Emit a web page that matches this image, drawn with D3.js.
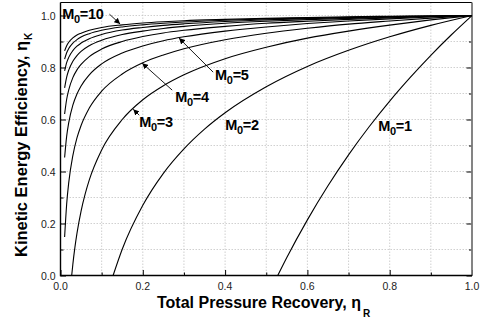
<!DOCTYPE html>
<html>
<head>
<meta charset="utf-8">
<script src="https://cdn.jsdelivr.net/npm/d3@7"></script>
<style>
  body { margin: 0; background: #fff; }
  svg { display: block; font-family: "Liberation Sans", Arial, sans-serif; }
</style>
</head>
<body>
<div id="chart"></div>
<script>
// total pressure recovery values (x)
const piFull = [0.01, 0.015, 0.02, 0.03, 0.04, 0.05, 0.07, 0.1, 0.15, 0.2, 0.25, 0.3, 0.4, 0.5, 0.6, 0.7, 0.8, 0.9, 1.0];
const etaM10 = [0.864, 0.884, 0.897, 0.914, 0.925, 0.932, 0.943, 0.954, 0.964, 0.971, 0.976, 0.980, 0.985, 0.989, 0.992, 0.995, 0.997, 0.998, 1];
const etaM9  = [0.832, 0.857, 0.873, 0.894, 0.907, 0.917, 0.930, 0.943, 0.956, 0.964, 0.970, 0.975, 0.982, 0.987, 0.990, 0.993, 0.996, 0.998, 1];
const etaM8  = [0.787, 0.819, 0.839, 0.865, 0.882, 0.894, 0.911, 0.927, 0.944, 0.954, 0.962, 0.968, 0.977, 0.983, 0.988, 0.992, 0.995, 0.998, 1];
const etaM7  = [0.722, 0.763, 0.790, 0.824, 0.846, 0.862, 0.884, 0.905, 0.927, 0.940, 0.950, 0.958, 0.970, 0.978, 0.984, 0.989, 0.993, 0.997, 1];
const etaM6  = [0.621, 0.678, 0.714, 0.761, 0.791, 0.812, 0.842, 0.871, 0.900, 0.919, 0.933, 0.943, 0.958, 0.970, 0.978, 0.985, 0.991, 0.996, 1];
const etaM5  = [0.454, 0.536, 0.588, 0.655, 0.698, 0.729, 0.772, 0.814, 0.856, 0.883, 0.903, 0.918, 0.940, 0.956, 0.969, 0.979, 0.987, 0.994, 1];
const etaM4  = [0.148, 0.275, 0.357, 0.461, 0.529, 0.577, 0.644, 0.709, 0.775, 0.818, 0.848, 0.872, 0.907, 0.932, 0.951, 0.967, 0.979, 0.990, 1];

const piM3  = [0.0272, 0.03, 0.035, 0.04, 0.05, 0.06, 0.07, 0.1, 0.15, 0.2, 0.25, 0.3, 0.4, 0.5, 0.6, 0.7, 0.8, 0.9, 1.0];
const etaM3 = [0, 0.043, 0.108, 0.162, 0.248, 0.314, 0.368, 0.483, 0.600, 0.676, 0.730, 0.772, 0.834, 0.878, 0.913, 0.940, 0.963, 0.983, 1];

const piM2  = [0.1278, 0.15, 0.2, 0.25, 0.3, 0.35, 0.4, 0.5, 0.6, 0.7, 0.8, 0.9, 1.0];
const etaM2 = [0, 0.101, 0.270, 0.393, 0.487, 0.563, 0.626, 0.726, 0.804, 0.866, 0.918, 0.962, 1];

const piM1  = [0.528, 0.55, 0.6, 0.65, 0.7, 0.75, 0.8, 0.85, 0.9, 0.95, 1.0];
const etaM1 = [0, 0.069, 0.214, 0.345, 0.464, 0.572, 0.671, 0.762, 0.847, 0.926, 1];

const series = [
  {pi: piFull, eta: etaM10}, {pi: piFull, eta: etaM9}, {pi: piFull, eta: etaM8},
  {pi: piFull, eta: etaM7}, {pi: piFull, eta: etaM6}, {pi: piFull, eta: etaM5},
  {pi: piFull, eta: etaM4}, {pi: piM3, eta: etaM3}, {pi: piM2, eta: etaM2},
  {pi: piM1, eta: etaM1}
];

// curve labels: Mach number, text anchor, arrow tail and head (data units)
const labelMach = ["10", "5", "4", "3", "2", "1"];
const labelPos  = [[0.004, 0.986], [0.3755, 0.751], [0.2786, 0.666], [0.1913, 0.570], [0.4002, 0.559], [0.772, 0.555]];
const arrows    = [[[0.119, 1.005], [0.145, 0.967]],
                   [[0.371, 0.782], [0.288, 0.913]],
                   [[0.2714, 0.713], [0.1985, 0.8165]],
                   [[0.1913, 0.6165], [0.1767, 0.6396]]];

const xTicks = [0, 0.2, 0.4, 0.6, 0.8, 1.0];
const yTicks = [0, 0.2, 0.4, 0.6, 0.8, 1.0];
const minorTicks = [0, 0.1, 0.2, 0.3, 0.4, 0.5, 0.6, 0.7, 0.8, 0.9, 1.0];

const width = 480;
const height = 324;
const marginLeft = 60.5, plotRight = 472, marginTop = 2.5, plotBottom = 275.5;

const x = d3.scaleLinear([0, 1], [marginLeft, plotRight]);
const y = d3.scaleLinear([0, 1.05], [plotBottom, marginTop]);

const svg = d3.create("svg")
    .attr("width", width)
    .attr("height", height);

// dotted grid
const grid = svg.append("g")
    .attr("stroke", "#c4c4c4")
    .attr("stroke-width", 0.8)
    .attr("stroke-dasharray", "1.5,1.5");
grid.selectAll(".gx").data(minorTicks.slice(1, -1)).join("line")
    .attr("x1", d => x(d)).attr("x2", d => x(d))
    .attr("y1", marginTop).attr("y2", plotBottom);
grid.selectAll(".gy").data(minorTicks.slice(1)).join("line")
    .attr("x1", marginLeft).attr("x2", plotRight)
    .attr("y1", d => y(d)).attr("y2", d => y(d));

// axes: ticks point inward, minor at 0.1
const isMajor = d => xTicks.some(t => Math.abs(t - d) < 1e-9);

const xAxis = svg.append("g")
    .attr("transform", `translate(0,${plotBottom})`)
    .call(d3.axisBottom(x).tickValues(minorTicks).tickSize(-3).tickFormat(""));
xAxis.selectAll(".tick line").filter(isMajor).attr("y2", -5.5);
xAxis.select(".domain").remove();

const xLabels = svg.append("g")
    .attr("font-size", 10.5).attr("fill", "#222").attr("text-anchor", "middle");
xLabels.selectAll("text").data(xTicks).join("text")
    .attr("x", d => x(d)).attr("y", plotBottom + 14)
    .text(d3.format(".1f"));

const yAxis = svg.append("g")
    .attr("transform", `translate(${marginLeft},0)`)
    .call(d3.axisLeft(y).tickValues(minorTicks).tickSize(-3).tickFormat(""));
yAxis.selectAll(".tick line").filter(isMajor).attr("x2", 5.5);
yAxis.select(".domain").remove();

const yRight = svg.append("g")
    .attr("transform", `translate(${plotRight},0)`)
    .call(d3.axisRight(y).tickValues(minorTicks).tickSize(-3).tickFormat(""));
yRight.selectAll(".tick line").filter(isMajor).attr("x2", -5.5);
yRight.select(".domain").remove();

const yLabels = svg.append("g")
    .attr("font-size", 10.5).attr("fill", "#222").attr("text-anchor", "end");
yLabels.selectAll("text").data(yTicks).join("text")
    .attr("x", marginLeft - 5).attr("y", d => y(d) + 4)
    .text(d3.format(".1f"));

// frame
svg.append("line").attr("x1", marginLeft).attr("x2", plotRight).attr("y1", marginTop).attr("y2", marginTop)
    .attr("stroke", "#000").attr("stroke-width", 1.2);
svg.append("line").attr("x1", plotRight).attr("x2", plotRight).attr("y1", marginTop).attr("y2", plotBottom)
    .attr("stroke", "#777").attr("stroke-width", 1.8);
svg.append("line").attr("x1", marginLeft).attr("x2", marginLeft).attr("y1", marginTop).attr("y2", plotBottom + 0.7)
    .attr("stroke", "#000").attr("stroke-width", 1.4);
svg.append("line").attr("x1", marginLeft).attr("x2", plotRight).attr("y1", plotBottom).attr("y2", plotBottom)
    .attr("stroke", "#000").attr("stroke-width", 1.4);

// curves
const line = d3.line()
    .x(d => x(d[0]))
    .y(d => y(d[1]))
    .curve(d3.curveMonotoneX);

svg.append("g")
    .attr("fill", "none")
    .attr("stroke", "#000")
    .attr("stroke-width", 1.1)
  .selectAll("path")
  .data(series)
  .join("path")
    .attr("d", s => line(s.pi.map((p, i) => [p, s.eta[i]])));

// arrows
svg.append("defs").append("marker")
    .attr("id", "head")
    .attr("viewBox", "0 0 10 10")
    .attr("refX", 10).attr("refY", 5)
    .attr("markerWidth", 6).attr("markerHeight", 6)
    .attr("markerUnits", "userSpaceOnUse")
    .attr("orient", "auto")
  .append("path")
    .attr("d", "M0,0L10,5L0,10z")
    .attr("fill", "#000");

svg.append("g")
    .attr("stroke", "#000")
    .attr("stroke-width", 0.9)
  .selectAll("line")
  .data(arrows)
  .join("line")
    .attr("x1", d => x(d[0][0])).attr("y1", d => y(d[0][1]))
    .attr("x2", d => x(d[1][0])).attr("y2", d => y(d[1][1]))
    .attr("marker-end", "url(#head)");

// Mach labels
const labels = svg.append("g")
    .attr("font-size", 14.5)
    .attr("font-weight", "bold")
    .attr("letter-spacing", -0.3)
  .selectAll("text")
  .data(labelMach)
  .join("text")
    .attr("x", (d, i) => x(labelPos[i][0]))
    .attr("y", (d, i) => y(labelPos[i][1]));
labels.append("tspan").text("M");
labels.append("tspan").attr("font-size", 11).attr("dy", 4).text("0");
labels.append("tspan").attr("dy", -4).text(d => "=" + d);

// axis titles
const xt = svg.append("text")
    .attr("x", 157).attr("y", 308)
    .attr("font-size", 16).attr("font-weight", "bold");
xt.append("tspan").text("Total Pressure Recovery, η");
xt.append("tspan").attr("font-size", 10).attr("dy", 9).attr("dx", 2).text("R");

const yt = svg.append("text")
    .attr("transform", "translate(27,257) rotate(-90)")
    .attr("font-size", 16.5).attr("font-weight", "bold");
yt.append("tspan").text("Kinetic Energy Efficiency, η");
yt.append("tspan").attr("font-size", 10).attr("dy", 5).attr("dx", 1).text("K");

d3.select("#chart").append(() => svg.node());
</script>
</body>
</html>
